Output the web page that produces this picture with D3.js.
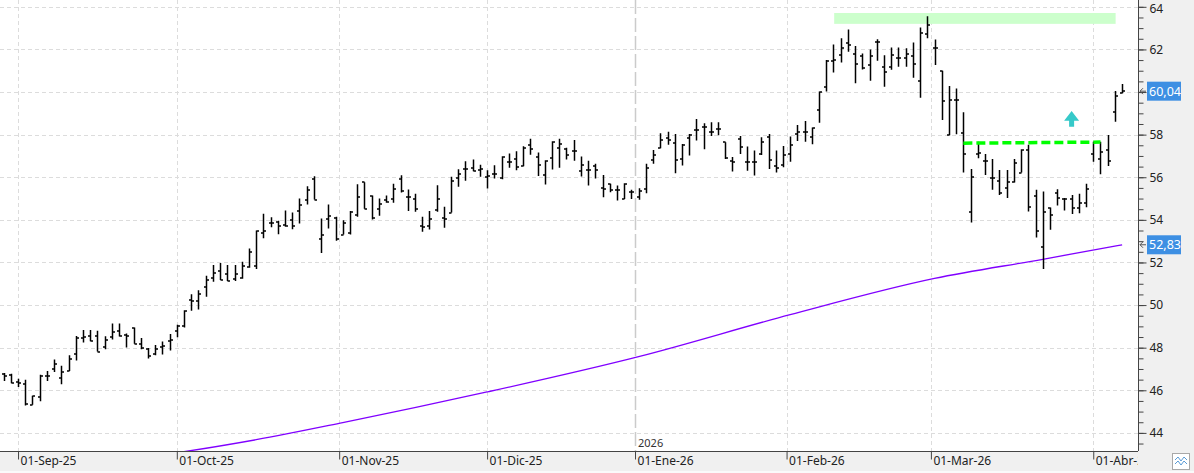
<!DOCTYPE html>
<html>
<head>
<meta charset="utf-8">
<script src="https://cdn.jsdelivr.net/npm/d3@7"></script>
<style>
body { margin: 0; background: #fff; }
svg { display: block; font-family: "Noto Sans", "Open Sans", sans-serif; }
</style>
</head>
<body>
<div id="chart"></div>
<script>
// daily OHLC bars (trading-day index 0 = 28-Aug-25)
var opens = [46.75,46.73,46.39,46.31,45.32,45.69,46.65,46.98,46.58,46.90,
  47.70,48.46,48.55,48.57,48.05,48.49,48.80,48.58,48.92,48.18,
  47.93,47.68,48.05,48.30,48.77,49.00,50.23,50.17,50.85,51.29,
  51.60,51.44,51.23,51.26,51.79,51.83,53.40,53.85,53.88,53.78,
  53.98,54.41,54.95,55.92,53.09,54.02,54.11,53.31,53.36,54.23,
  55.77,55.11,54.53,54.92,54.98,55.94,55.08,54.98,53.73,53.70,
  54.45,54.11,54.34,55.98,56.41,56.45,56.33,56.02,56.14,55.98,
  56.73,56.86,56.52,57.50,56.95,56.09,56.92,57.39,57.31,57.25,
  56.31,56.34,56.53,55.48,55.67,55.41,54.98,55.33,55.05,55.44,
  56.81,57.36,57.83,57.59,56.84,57.83,58.22,58.34,58.14,58.25,
  57.64,56.77,57.78,56.73,56.73,57.08,57.88,56.53,56.56,57.09,
  58.03,58.13,57.91,59.16,60.22,61.47,61.73,62.28,61.78,61.69,
  61.27,62.33,61.19,61.19,61.62,61.58,61.70,60.52,62.72,62.05,
  61.00,57.98,59.63,58.06,54.36,57.09,56.78,55.95,55.84,55.48,
  55.80,56.22,57.28,55.13,52.72,54.55,55.25,54.97,54.97,54.55,
  54.81,57.09,56.84,57.28,59.05,59.94];
var highs = [46.81,46.78,46.54,46.50,45.74,46.73,46.90,47.45,47.15,47.65,
  48.55,48.83,48.83,48.80,48.54,49.14,49.14,48.66,48.95,48.46,
  47.99,48.12,48.29,48.64,49.08,49.76,50.51,50.70,51.38,51.88,
  51.97,51.88,51.88,52.03,52.66,53.50,54.29,54.12,53.96,54.44,
  54.34,55.00,55.58,56.05,54.06,54.72,54.14,53.98,54.42,55.67,
  55.77,55.14,55.00,55.14,55.70,56.09,55.42,55.23,54.14,54.42,
  55.63,54.61,56.02,56.38,56.75,56.83,56.59,56.33,56.56,56.98,
  57.11,57.22,57.45,57.81,57.16,56.80,57.69,57.81,57.38,57.75,
  56.97,56.77,56.63,56.11,55.69,55.61,55.72,55.41,55.48,56.63,
  57.28,58.06,58.13,58.03,57.56,58.03,58.73,58.53,58.58,58.58,
  57.64,56.95,57.94,57.44,57.25,57.88,58.03,57.25,57.47,57.91,
  58.45,58.64,58.33,60.02,61.50,62.23,62.52,62.94,62.16,61.81,
  62.00,62.48,61.73,62.09,62.09,62.05,62.33,63.03,63.56,62.47,
  61.00,60.28,60.17,59.05,56.39,57.67,57.09,56.86,56.34,56.34,
  56.86,57.31,57.52,55.41,55.33,54.58,55.44,55.02,55.17,55.22,
  55.69,57.67,57.67,57.98,60.05,60.38];
var lows = [46.43,46.33,46.16,45.28,45.32,45.49,46.43,46.86,46.28,46.90,
  47.40,48.24,48.30,47.82,47.93,48.38,48.52,48.01,48.18,47.93,
  47.49,47.65,47.68,47.87,48.49,48.95,49.73,49.79,50.39,51.10,
  51.18,51.13,51.13,51.24,51.75,51.69,53.14,53.65,53.33,53.68,
  53.56,53.83,54.72,54.95,52.45,53.59,53.02,53.31,53.31,54.14,
  54.52,54.02,54.19,54.80,54.80,55.28,54.42,54.38,53.44,53.55,
  54.38,53.63,54.34,55.55,55.83,56.28,56.02,55.47,55.94,55.91,
  56.45,56.33,56.52,57.06,56.06,55.66,56.36,56.44,56.83,56.78,
  56.03,55.61,55.94,55.06,55.30,54.91,54.98,54.98,54.94,55.25,
  56.63,57.36,57.53,56.19,56.55,57.02,57.72,57.31,57.94,57.97,
  56.86,56.27,57.09,56.31,56.08,57.05,56.39,56.22,56.47,56.73,
  57.70,57.67,57.55,58.56,60.02,60.92,61.39,61.89,60.41,61.06,
  60.53,61.47,60.25,61.05,61.19,61.19,60.67,59.73,62.52,61.27,
  58.69,57.97,58.02,56.22,53.88,56.89,56.11,55.41,55.17,55.02,
  55.75,56.22,54.39,53.17,51.69,53.53,54.67,54.44,54.27,54.31,
  54.59,56.73,56.14,56.53,58.61,59.94];
var closes = [46.68,46.34,46.36,45.35,45.71,46.68,46.68,47.24,46.86,47.48,
  48.46,48.49,48.33,47.82,48.36,48.75,48.55,48.55,48.19,47.98,
  47.62,47.93,48.08,48.36,49.00,49.73,50.20,50.54,51.16,51.51,
  51.18,51.13,51.44,51.83,52.50,53.48,53.50,53.84,53.71,53.73,
  53.70,54.72,55.42,54.95,53.28,54.20,53.08,53.86,54.38,55.08,
  54.52,54.11,54.73,54.86,55.45,55.36,55.05,54.52,53.67,54.05,
  54.98,54.05,55.81,56.17,56.41,56.28,56.38,56.05,56.17,56.95,
  56.73,56.48,57.39,57.34,56.56,56.77,57.66,57.55,57.06,57.25,
  56.58,56.34,56.34,55.45,55.41,55.41,55.69,55.33,55.36,56.42,
  57.03,57.75,57.75,56.81,57.53,57.98,58.22,58.34,58.14,58.25,
  56.89,56.73,57.44,56.73,56.73,57.64,56.81,56.42,57.03,57.52,
  58.14,58.13,58.30,59.98,61.47,61.50,62.09,62.20,61.31,61.14,
  61.69,62.33,60.92,61.72,61.62,61.78,61.31,62.78,63.14,62.05,
  59.58,59.63,59.63,57.08,56.00,57.16,56.78,55.95,55.28,55.80,
  56.66,57.28,54.59,53.48,54.39,54.23,55.02,54.97,54.55,54.81,
  55.44,57.67,57.20,56.77,59.81,60.04];

// moving average (purple), read at a few bar positions
var maIdx  = [18, 25, 35, 47, 67, 88, 109, 129, 144, 155];
var maVals = [42.80, 43.12, 43.68, 44.48, 45.92, 47.58, 49.55, 51.25, 52.15, 52.83];

// month ticks on the time axis (bar positions)
var monthPos    = [2, 24, 46.5, 67, 87.5, 108.5, 128.5, 151];
var monthLabels = ["01-Sep-25", "01-Oct-25", "01-Nov-25", "01-Dic-25",
                   "01-Ene-26", "01-Feb-26", "01-Mar-26", "01-Abr-26"];
var yearPos = 87.5, yearLabel = "2026";

var yTicks = [44, 46, 48, 50, 52, 54, 56, 58, 60, 62, 64];

// drawings
var zone = {from: 115.1, to: 154.1, lo: 63.2, hi: 63.71};
var support = [[133, 57.60], [152, 57.65]];
var arrowAt = {i: 148, tip: 59.11, base: 58.65, foot: 58.37};
var priceTags = [{v: 60.04, text: "60,04"}, {v: 52.83, text: "52,83"}];

var W = 1194, H = 473, plotR = 1138, plotB = 451;

var svg = d3.select("#chart").append("svg")
    .attr("width", W)
    .attr("height", H);

var x = d3.scaleLinear().domain([-0.5, 157.2]).range([0, plotR]);
var y = d3.scaleLinear().domain([43.15, 64.32]).range([plotB, 0]);

// backgrounds
svg.append("rect").attr("width", W).attr("height", H).attr("fill", "#fff");
svg.append("rect").attr("x", plotR).attr("y", 0).attr("width", W - plotR).attr("height", H).attr("fill", "#f0f0f0");
svg.append("rect").attr("x", 0).attr("y", plotB).attr("width", W).attr("height", H - plotB).attr("fill", "#f0f0f0");
svg.append("rect").attr("x", 0).attr("y", H - 2).attr("width", W).attr("height", 2).attr("fill", "#fafafa");

svg.append("clipPath").attr("id", "plot")
  .append("rect").attr("width", plotR).attr("height", plotB);

var plot = svg.append("g").attr("clip-path", "url(#plot)");

// grid
plot.append("g").selectAll("line").data(yTicks).enter().append("line")
    .attr("x1", 0).attr("x2", plotR)
    .attr("y1", function(d) { return Math.round(y(d)) + 0.5; })
    .attr("y2", function(d) { return Math.round(y(d)) + 0.5; })
    .attr("stroke", "#dcdcdc").attr("stroke-dasharray", "4,3");

plot.append("g").selectAll("line").data(monthPos.filter(function(d) { return d !== yearPos; })).enter().append("line")
    .attr("x1", function(d) { return Math.round(x(d)) + 0.5; })
    .attr("x2", function(d) { return Math.round(x(d)) + 0.5; })
    .attr("y1", 0).attr("y2", plotB)
    .attr("stroke", "#dcdcdc").attr("stroke-dasharray", "4,3");

plot.append("line")
    .attr("x1", Math.round(x(yearPos)) + 0.5).attr("x2", Math.round(x(yearPos)) + 0.5)
    .attr("y1", 0).attr("y2", plotB)
    .attr("stroke", "#cbcbcb").attr("stroke-width", 1.5).attr("stroke-dasharray", "14,4");

plot.append("text")
    .attr("x", x(yearPos) + 3).attr("y", plotB - 4)
    .attr("font-size", 11).attr("fill", "#333")
    .text(yearLabel);

// resistance zone
plot.append("rect")
    .attr("x", x(zone.from)).attr("width", x(zone.to) - x(zone.from))
    .attr("y", y(zone.hi)).attr("height", y(zone.lo) - y(zone.hi))
    .attr("fill", "#ccffcc");

// moving average
var maLine = d3.line()
    .x(function(d, k) { return x(maIdx[k]); })
    .y(function(d) { return y(d); })
    .curve(d3.curveMonotoneX);
plot.append("path")
    .attr("d", maLine(maVals))
    .attr("fill", "none").attr("stroke", "#8000ff").attr("stroke-width", 1.3);

// OHLC bars
var idx = d3.range(opens.length);
var bars = plot.append("g").attr("stroke", "#000").attr("fill", "none");
bars.selectAll("path").data(idx).enter().append("path")
    .attr("stroke-width", 1.5)
    .attr("d", function(i) {
        var bx = Math.round(x(i)) + 0.5;
        return "M" + bx + "," + y(highs[i]) + "V" + y(lows[i]) +
            "M" + (bx - 2.5) + "," + Math.round(y(opens[i])) + "H" + bx +
            "M" + bx + "," + Math.round(y(closes[i])) + "H" + (bx + 2.5);
    });

// support line
plot.append("line")
    .attr("x1", x(support[0][0])).attr("y1", y(support[0][1]))
    .attr("x2", x(support[1][0])).attr("y2", y(support[1][1]))
    .attr("stroke", "#00ff00").attr("stroke-width", 3.5).attr("stroke-dasharray", "9,4");

// arrow
var ax = x(arrowAt.i);
plot.append("path")
    .attr("d", "M" + ax + "," + y(arrowAt.tip) +
        "L" + (ax + 7.5) + "," + y(arrowAt.base) +
        "H" + (ax + 2.5) + "V" + y(arrowAt.foot) +
        "H" + (ax - 2.5) + "V" + y(arrowAt.base) +
        "H" + (ax - 7.5) + "Z")
    .attr("fill", "#36c9c9");

// right axis: minor ticks every 0.5, labelled ticks every 2
var minor = d3.range(43.5, 64.01, 0.5);
var gMinor = svg.append("g").attr("transform", "translate(" + (plotR + 0.5) + ",0)");
gMinor.call(d3.axisRight(y).tickValues(minor).tickSize(5).tickFormat(""));
gMinor.select(".domain").remove();
gMinor.selectAll("line").attr("stroke", "#444");

// labels hidden behind a price tag are not drawn
var coveredTicks = yTicks.filter(function(t) {
    return priceTags.some(function(p) { return Math.abs(y(t) - y(p.v)) < 12; });
});
var yAxis = d3.axisRight(y).tickValues(yTicks).tickSize(8).tickPadding(3)
    .tickFormat(function(d) { return coveredTicks.indexOf(d) >= 0 ? "" : d3.format("d")(d); });
var gy = svg.append("g").attr("transform", "translate(" + (plotR + 0.5) + ",0)");
gy.call(yAxis);
gy.select(".domain").attr("d", "M0,0V" + plotB).attr("stroke", "#444");
gy.selectAll(".tick line").attr("stroke", "#444");
gy.selectAll(".tick text").attr("font-size", 12).attr("fill", "#222")
    .attr("font-family", "Noto Sans, sans-serif");
gy.selectAll(".tick").filter(function(d) { return d === 64; }).select("text").attr("dy", "0.45em");

// price tags
var tags = svg.append("g");
priceTags.forEach(function(t) {
    var ty = y(t.v);
    tags.append("path")
        .attr("d", "M1146," + ty + "H1140M1143," + (ty - 3) + "L1140," + ty + "L1143," + (ty + 3))
        .attr("stroke", "#555").attr("fill", "none");
    tags.append("rect")
        .attr("x", 1147).attr("y", ty - 9.5).attr("width", 34).attr("height", 19)
        .attr("fill", "#3d8fe3");
    tags.append("text")
        .attr("x", 1149).attr("y", ty + 4.5)
        .attr("font-size", 12.5).attr("fill", "#fff")
        .text(t.text);
});

// bottom axis (labels clipped at the price scale, like "01-Abr-")
var gx = svg.append("g").attr("transform", "translate(0," + (plotB + 0.5) + ")");
gx.append("clipPath").attr("id", "xclip")
  .append("rect").attr("x", 0).attr("y", -2).attr("width", plotR).attr("height", 30);
gx.attr("clip-path", "url(#xclip)");
var xAxis = d3.axisBottom(x).tickValues(monthPos).tickSize(8).tickSizeOuter(0)
    .tickFormat(function(d, k) { return monthLabels[k]; });
gx.call(xAxis);
gx.select(".domain").attr("d", "M0,0H" + plotR).attr("stroke", "#444");
gx.selectAll(".tick line").attr("stroke", "#444");
gx.selectAll(".tick text")
    .attr("text-anchor", "start").attr("x", 2).attr("y", 5).attr("dy", "0.71em")
    .attr("font-size", 12).attr("fill", "#222")
    .attr("font-family", "Noto Sans, sans-serif");

// little chart-type button at the bottom right
var btn = svg.append("g");
btn.append("rect").attr("x", 1172.5).attr("y", 453.5).attr("width", 17).attr("height", 16)
    .attr("fill", "#fff").attr("stroke", "#a8a8a8");
btn.append("path").attr("d", "M1175,460l3,-3l3,4l3,-4l3,3M1175,464l3,-3l3,4l3,-4l3,3")
    .attr("fill", "none").attr("stroke", "#5a9bd5").attr("stroke-width", 1);
</script>
</body>
</html>
